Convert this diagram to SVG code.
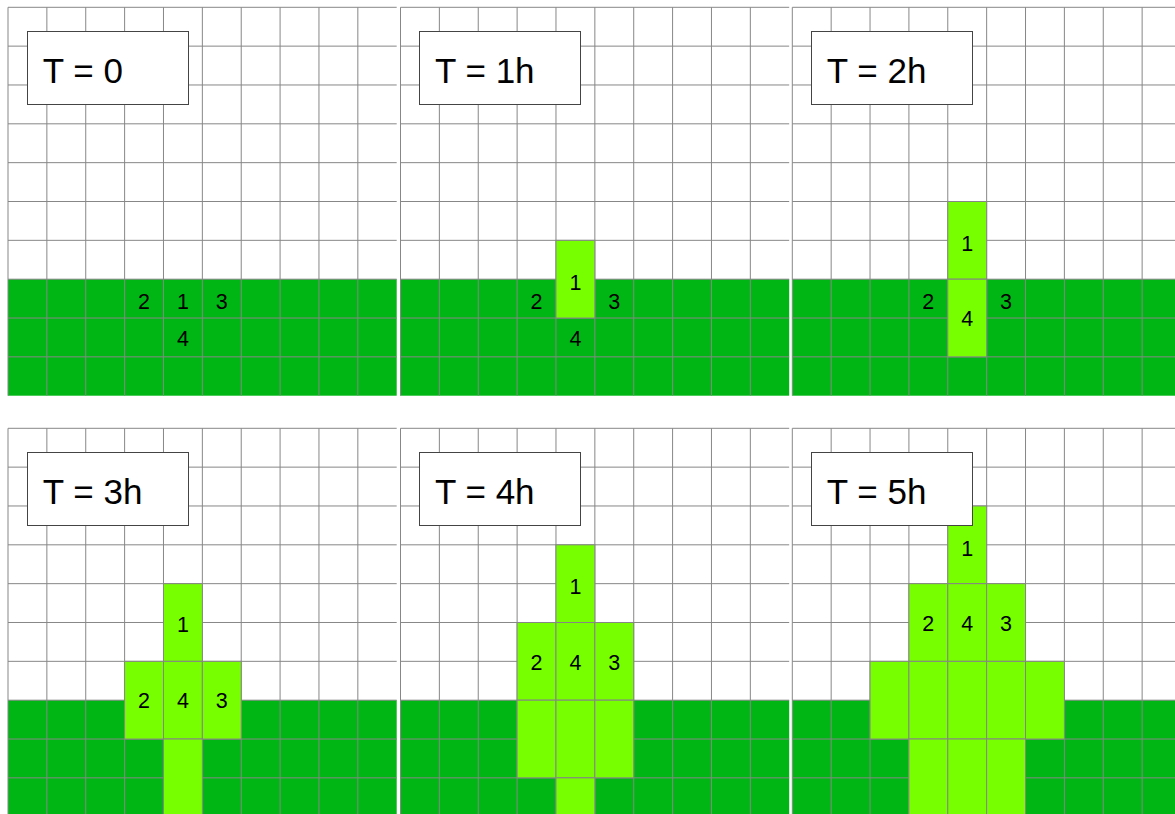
<svg xmlns="http://www.w3.org/2000/svg" xmlns:xlink="http://www.w3.org/1999/xlink" width="1175" height="814" viewBox="0 0 1175 814">
<style>
.dk{fill:#00b614}
.lt{fill:#77ff00;stroke:#868686;stroke-width:1}
.gl{stroke:#878787;stroke-width:1;fill:none}
.box{fill:#ffffff;stroke:#444444;stroke-width:1}
.ttl{font-family:"Liberation Sans",Arial,sans-serif;font-size:35px;fill:#000}
.num{font-family:"Liberation Sans",Arial,sans-serif;font-size:21.5px;fill:#000;text-anchor:middle}
</style>
<defs>
<g id="grid" class="gl">
<path d="M0,0V388.4M38.87,0V388.4M77.74,0V388.4M116.61,0V388.4M155.48,0V388.4M194.35,0V388.4M233.22,0V388.4M272.09,0V388.4M310.96,0V388.4M349.83,0V388.4"/>
<path d="M0,0H388.7M0,38.84H388.7M0,77.68H388.7M0,116.52H388.7M0,155.36H388.7M0,194.2H388.7M0,233.04H388.7M0,271.88H388.7M0,310.72H388.7M0,349.56H388.7"/>
</g>
<rect id="soil" width="388.7" height="116.52" y="271.88"/>
</defs>
<rect width="1175" height="814" fill="#ffffff"/>

<g id="panel-t0">
<use xlink:href="#soil" href="#soil" x="8" y="7.3" class="dk"/>
<use xlink:href="#grid" href="#grid" x="8" y="7.3"/>
<text class="num" x="144.05" y="309">2</text>
<text class="num" x="182.92" y="309">1</text>
<text class="num" x="221.79" y="309">3</text>
<text class="num" x="182.92" y="346">4</text>
<rect class="box" x="27.5" y="31.5" width="161" height="73"/>
<text class="ttl" x="42.8" y="83.3">T = 0</text>
</g>

<g id="panel-t1">
<use xlink:href="#soil" href="#soil" x="400.5" y="7.3" class="dk"/>
<use xlink:href="#grid" href="#grid" x="400.5" y="7.3"/>
<rect class="lt" x="555.98" y="240.34" width="38.87" height="77.68"/>
<text class="num" x="575.42" y="289.5">1</text>
<text class="num" x="536.55" y="309">2</text>
<text class="num" x="614.29" y="309">3</text>
<text class="num" x="575.42" y="346">4</text>
<rect class="box" x="419.5" y="31.5" width="161" height="73"/>
<text class="ttl" x="435" y="83.3">T = 1h</text>
</g>

<g id="panel-t2">
<use xlink:href="#soil" href="#soil" x="792.3" y="7.3" class="dk"/>
<use xlink:href="#grid" href="#grid" x="792.3" y="7.3"/>
<rect class="lt" x="947.78" y="201.5" width="38.87" height="77.68"/>
<rect class="lt" x="947.78" y="279.18" width="38.87" height="77.68"/>
<text class="num" x="967.22" y="250.5">1</text>
<text class="num" x="928.35" y="309">2</text>
<text class="num" x="1006.09" y="309">3</text>
<text class="num" x="967.22" y="325.5">4</text>
<rect class="box" x="811.5" y="31.5" width="161" height="73"/>
<text class="ttl" x="826.8" y="83.3">T = 2h</text>
</g>

<g id="panel-t3">
<use xlink:href="#soil" href="#soil" x="8" y="428.3" class="dk"/>
<use xlink:href="#grid" href="#grid" x="8" y="428.3"/>
<rect class="lt" x="163.48" y="583.66" width="38.87" height="77.68"/>
<rect class="lt" x="124.61" y="661.34" width="38.87" height="77.68"/>
<rect class="lt" x="163.48" y="661.34" width="38.87" height="77.68"/>
<rect class="lt" x="202.35" y="661.34" width="38.87" height="77.68"/>
<rect class="lt" x="163.48" y="739.02" width="38.87" height="77.68"/>
<text class="num" x="182.92" y="632.3">1</text>
<text class="num" x="144.05" y="707.7">2</text>
<text class="num" x="182.92" y="707.7">4</text>
<text class="num" x="221.79" y="707.7">3</text>
<rect class="box" x="27.5" y="452.5" width="161" height="73"/>
<text class="ttl" x="42.8" y="504.3">T = 3h</text>
</g>

<g id="panel-t4">
<use xlink:href="#soil" href="#soil" x="400.5" y="428.3" class="dk"/>
<use xlink:href="#grid" href="#grid" x="400.5" y="428.3"/>
<rect class="lt" x="555.98" y="544.82" width="38.87" height="77.68"/>
<rect class="lt" x="517.11" y="622.5" width="38.87" height="77.68"/>
<rect class="lt" x="555.98" y="622.5" width="38.87" height="77.68"/>
<rect class="lt" x="594.85" y="622.5" width="38.87" height="77.68"/>
<rect class="lt" x="517.11" y="700.18" width="38.87" height="77.68"/>
<rect class="lt" x="555.98" y="700.18" width="38.87" height="77.68"/>
<rect class="lt" x="594.85" y="700.18" width="38.87" height="77.68"/>
<rect class="lt" x="555.98" y="777.86" width="38.87" height="40"/>
<text class="num" x="575.42" y="594">1</text>
<text class="num" x="536.55" y="669.5">2</text>
<text class="num" x="575.42" y="669.5">4</text>
<text class="num" x="614.29" y="669.5">3</text>
<rect class="box" x="419.5" y="452.5" width="161" height="73"/>
<text class="ttl" x="435" y="504.3">T = 4h</text>
</g>

<g id="panel-t5">
<use xlink:href="#soil" href="#soil" x="792.3" y="428.3" class="dk"/>
<use xlink:href="#grid" href="#grid" x="792.3" y="428.3"/>
<rect class="lt" x="947.78" y="505.98" width="38.87" height="77.68"/>
<rect class="lt" x="908.91" y="583.66" width="38.87" height="77.68"/>
<rect class="lt" x="947.78" y="583.66" width="38.87" height="77.68"/>
<rect class="lt" x="986.65" y="583.66" width="38.87" height="77.68"/>
<rect class="lt" x="870.04" y="661.34" width="38.87" height="77.68"/>
<rect class="lt" x="908.91" y="661.34" width="38.87" height="77.68"/>
<rect class="lt" x="947.78" y="661.34" width="38.87" height="77.68"/>
<rect class="lt" x="986.65" y="661.34" width="38.87" height="77.68"/>
<rect class="lt" x="1025.52" y="661.34" width="38.87" height="77.68"/>
<rect class="lt" x="908.91" y="739.02" width="38.87" height="77.68"/>
<rect class="lt" x="947.78" y="739.02" width="38.87" height="77.68"/>
<rect class="lt" x="986.65" y="739.02" width="38.87" height="77.68"/>
<text class="num" x="967.22" y="555.5">1</text>
<text class="num" x="928.35" y="630.5">2</text>
<text class="num" x="967.22" y="630.5">4</text>
<text class="num" x="1006.09" y="630.5">3</text>
<rect class="box" x="811.5" y="452.5" width="161" height="73"/>
<text class="ttl" x="826.8" y="504.3">T = 5h</text>
</g>
</svg>
